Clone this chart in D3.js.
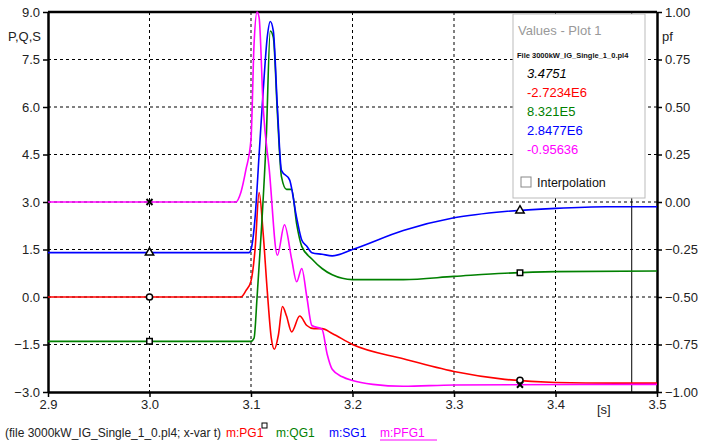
<!DOCTYPE html>
<html><head><meta charset="utf-8">
<script src="https://cdn.jsdelivr.net/npm/d3@7"></script>
<style>body{margin:0;background:#fff;font-family:"Liberation Sans",Arial,sans-serif}</style>
</head><body><div id="chart"></div>
<script>
// values (t in s, P/Q/S in scaled units, pf on right axis)
const tPG = [2.9,3.09,3.095,3.1,3.104,3.108,3.112,3.116,3.12,3.123,3.127,3.131,3.135,3.14,3.148,3.155,3.162,3.17,3.18,3.2,3.25,3.3,3.35,3.4,3.46,3.5];
const PG  = [0,0,0.2,0.5,1.5,3.3,2.0,0.2,-1.3,-1.65,-1.2,-0.3,-0.6,-1.1,-0.6,-0.9,-1.0,-1.0,-1.15,-1.5,-1.95,-2.35,-2.6,-2.7,-2.72,-2.72];
const tQG = [2.9,3.1,3.103,3.106,3.11,3.115,3.119,3.122,3.126,3.13,3.135,3.14,3.145,3.15,3.16,3.17,3.18,3.2,3.25,3.3,3.35,3.4,3.5];
const QG  = [-1.4,-1.4,-1.3,0,2.0,5.0,8.4,8.2,5.8,3.8,3.4,3.4,2.3,1.6,1.2,0.9,0.7,0.55,0.55,0.65,0.75,0.8,0.82];
const tSG = [2.9,3.098,3.1,3.104,3.108,3.112,3.116,3.119,3.122,3.126,3.13,3.138,3.145,3.15,3.155,3.16,3.17,3.18,3.2,3.25,3.3,3.35,3.4,3.45,3.5];
const SG  = [1.4,1.4,1.5,2.5,4.5,6.5,8.2,8.7,8.4,6.0,4.0,3.7,2.5,1.8,1.6,1.4,1.35,1.3,1.5,2.1,2.5,2.7,2.8,2.85,2.85];
const tPF = [2.9,3.085,3.09,3.095,3.1,3.103,3.106,3.108,3.112,3.118,3.126,3.133,3.14,3.145,3.15,3.155,3.16,3.17,3.175,3.18,3.19,3.2,3.22,3.25,3.3,3.5];
const PF  = [0,0,0.05,0.17,0.33,0.83,1.0,0.97,0.5,0.17,-0.28,-0.12,-0.3,-0.42,-0.35,-0.5,-0.65,-0.67,-0.8,-0.88,-0.92,-0.94,-0.96,-0.97,-0.963,-0.96];
const leftTicks = [-3,-1.5,0,1.5,3,4.5,6,7.5,9];
const rightTicks = [-1,-0.75,-0.5,-0.25,0,0.25,0.5,0.75,1];
const xTicks = [2.9,3.0,3.1,3.2,3.3,3.4,3.5];
const markT = [3.0, 3.365];
const readout = ["3.4751","-2.7234E6","8.321E5","2.8477E6","-0.95636"];
const legendNames = ["m:PG1","m:QG1","m:SG1","m:PFG1"];
const colors = {PG:"#ff0000",QG:"#008000",SG:"#0000ff",PF:"#ff00ff"};

const W = 704, H = 447;
const svg = d3.select("#chart").append("svg").attr("width", W).attr("height", H);
const x = d3.scaleLinear().domain([2.9,3.5]).range([48,657]);
const y = d3.scaleLinear().domain([-3,9]).range([392,12]);
const yr = d3.scaleLinear().domain([-1,1]).range([392,12]);

// grid
svg.append("g").selectAll("line").data(xTicks.slice(1,-1)).join("line")
  .attr("x1",d=>x(d)).attr("x2",d=>x(d)).attr("y1",12).attr("y2",392)
  .attr("stroke","#000").attr("stroke-dasharray","3,3");
svg.append("g").selectAll("line").data(leftTicks.slice(1,-1)).join("line")
  .attr("x1",48).attr("x2",657).attr("y1",d=>y(d)).attr("y2",d=>y(d))
  .attr("stroke","#000").attr("stroke-dasharray","3,3");

// axes
const axStyle = g => { g.select(".domain").attr("stroke-width",2.5); g.selectAll(".tick line").attr("stroke-width",1.5);
  g.selectAll("text").style("font-size","13px").style("font-family","Liberation Sans Narrow, Arial").attr("fill","#222"); };
svg.append("g").attr("transform","translate(48,0)")
  .call(d3.axisLeft(y).tickValues(leftTicks).tickFormat(d3.format(".1f")).tickSize(5).tickSizeOuter(0)).call(axStyle);
svg.append("g").attr("transform","translate(657,0)")
  .call(d3.axisRight(yr).tickValues(rightTicks).tickFormat(d3.format(".2f")).tickSize(5).tickSizeOuter(0)).call(axStyle);
svg.append("g").attr("transform","translate(0,392)")
  .call(d3.axisBottom(x).tickValues(xTicks).tickFormat(d3.format(".1f")).tickSize(5).tickSizeOuter(0)).call(axStyle);
svg.append("line").attr("x1",48).attr("x2",657).attr("y1",12).attr("y2",12).attr("stroke","#000").attr("stroke-width",2.5);
svg.append("text").attr("x",8).attr("y",41).text("P,Q,S").style("font-size","13px").attr("fill","#222");
svg.append("text").attr("x",662).attr("y",41).text("pf").style("font-size","13px").attr("fill","#222");
svg.append("text").attr("x",597).attr("y",414).text("[s]").style("font-size","13px").attr("fill","#222");

// cursor line
svg.append("line").attr("x1",x(3.4751)).attr("x2",x(3.4751)).attr("y1",12).attr("y2",392).attr("stroke","#000");

const line = d3.line().x(d=>x(d[0])).y(d=>d[2](d[1])).curve(d3.curveMonotoneX);
const series = [
  {k:"PG", t:tPG, v:PG, s:y},
  {k:"QG", t:tQG, v:QG, s:y},
  {k:"SG", t:tSG, v:SG, s:y},
  {k:"PF", t:tPF, v:PF, s:yr}
];
series.forEach(sr => {
  svg.append("path").datum(sr.t.map((t,i)=>[t,sr.v[i],sr.s]))
    .attr("d",line).attr("fill","none").attr("stroke",colors[sr.k]).attr("stroke-width",1.6);
});

// markers
const interp = (ts,vs,t) => d3.scaleLinear().domain(ts).range(vs)(t);
const sym = {PG:d3.symbolCircle, QG:d3.symbolSquare, SG:d3.symbolTriangle};
series.forEach(sr => markT.forEach(t => {
  const px = x(t), py = sr.s(interp(sr.t,sr.v,t));
  if (sr.k === "PF") {
    svg.append("path").attr("d","M-3,-3L3,3M3,-3L-3,3").attr("transform",`translate(${px},${py})`)
      .attr("stroke","#000").attr("stroke-width",2);
  } else {
    svg.append("path").attr("d",d3.symbol(sym[sr.k],30)()).attr("transform",`translate(${px},${py})`)
      .attr("fill","#fff").attr("stroke","#000").attr("stroke-width",1.5);
  }
}));

// value box
const box = svg.append("g").attr("transform","translate(513,14)");
box.append("rect").attr("width",132).attr("height",184).attr("fill","#fff").attr("stroke","#bbb");
box.append("text").attr("x",5).attr("y",21).text("Values - Plot 1").style("font-size","13px").attr("fill","#999");
box.append("text").attr("x",4).attr("y",44).text("File 3000kW_IG_Single_1_0.pl4").style("font-size","7.5px").attr("font-weight","bold").attr("fill","#111");
const rc = ["#000",colors.PG,colors.QG,colors.SG,colors.PF];
box.selectAll(".rv").data(readout).join("text").attr("class","rv")
  .attr("x",14).attr("y",(d,i)=>64+i*19).text(d=>d).style("font-size","13px")
  .attr("fill",(d,i)=>rc[i]).style("font-style",(d,i)=>i===0?"italic":"normal");
box.append("rect").attr("x",8).attr("y",163).attr("width",10).attr("height",10).attr("fill","#fff").attr("stroke","#888");
box.append("text").attr("x",24).attr("y",173).text("Interpolation").style("font-size","12.5px").attr("fill","#111");

// bottom legend
const lf = t => t.style("font-size","12px").style("font-family","Liberation Sans Narrow, Arial");
svg.append("text").attr("x",5).attr("y",437).text("(file 3000kW_IG_Single_1_0.pl4; x-var t)").attr("fill","#222").call(lf);
const legX = [226,276,329,380];
const lc = [colors.PG,colors.QG,colors.SG,colors.PF];
legendNames.forEach((n,i) => svg.append("text").attr("x",legX[i]).attr("y",437).text(n).attr("fill",lc[i]).call(lf));
svg.append("line").attr("x1",380).attr("x2",437).attr("y1",440).attr("y2",440).attr("stroke",colors.PF);
svg.append("rect").attr("x",262).attr("y",423).attr("width",5).attr("height",5).attr("fill","#fff").attr("stroke","#000");
</script></body></html>
